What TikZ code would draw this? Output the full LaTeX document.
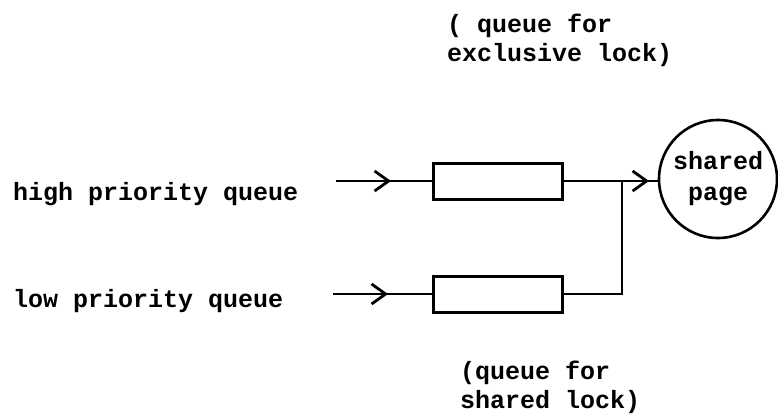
\documentclass[tikz,border=0pt]{standalone}
\usepackage{fontspec}
\setmonofont{Liberation Mono}
\usetikzlibrary{arrows.meta}
\begin{document}
\begin{tikzpicture}[x=1pt,y=-1pt,
  txt/.style={font=\ttfamily\bfseries\fontsize{25}{29}\selectfont, inner sep=0pt},
  lbl/.style={txt, anchor=base west, align=left},
  qbox/.style={draw, line width=3pt, minimum width=129pt, minimum height=36pt, inner sep=0pt},
  page/.style={draw, circle, line width=2.6pt, minimum size=118pt, inner sep=0pt, txt, align=center},
  wire/.style={line width=2.8pt},
  chev/.style={wire, -{Straight Barb[length=14pt, width=20pt, line width=2.8pt]}}
]
\useasboundingbox (0,0) rectangle (778,418);

% nodes
\node[qbox] (box1) at (497.5,181) {};
\node[qbox] (box2) at (497.5,294) {};
\node[page] (pg) at (718,179) {shared\\[2pt]page};

\node[lbl] (hi) at (13,200) {high priority queue};
\node[lbl] (lo) at (13,307) {low priority queue};
\node[lbl] (excl) at (447,61) {( queue for\\exclusive lock)};
\node[lbl] (shrd) at (460,408) {(queue for\\shared lock)};

% coordinates
\coordinate (s1) at (336,181);
\coordinate (m1) at (391,181);
\coordinate (s2) at (333,294);
\coordinate (m2) at (388,294);
\coordinate (j) at (622,181);
\coordinate (m3) at (649,181);

% connectors
\draw[wire] (s1) -- (box1.west);
\draw[chev] (s1) -- (m1);
\draw[wire] (s2) -- (box2.west);
\draw[chev] (s2) -- (m2);
\draw[wire] (box1.east) -- (pg.west |- box1.east);
\draw[chev] (box1.east) -- (m3);
\draw[wire] (box2.east) -| (j);
\end{tikzpicture}
\end{document}
